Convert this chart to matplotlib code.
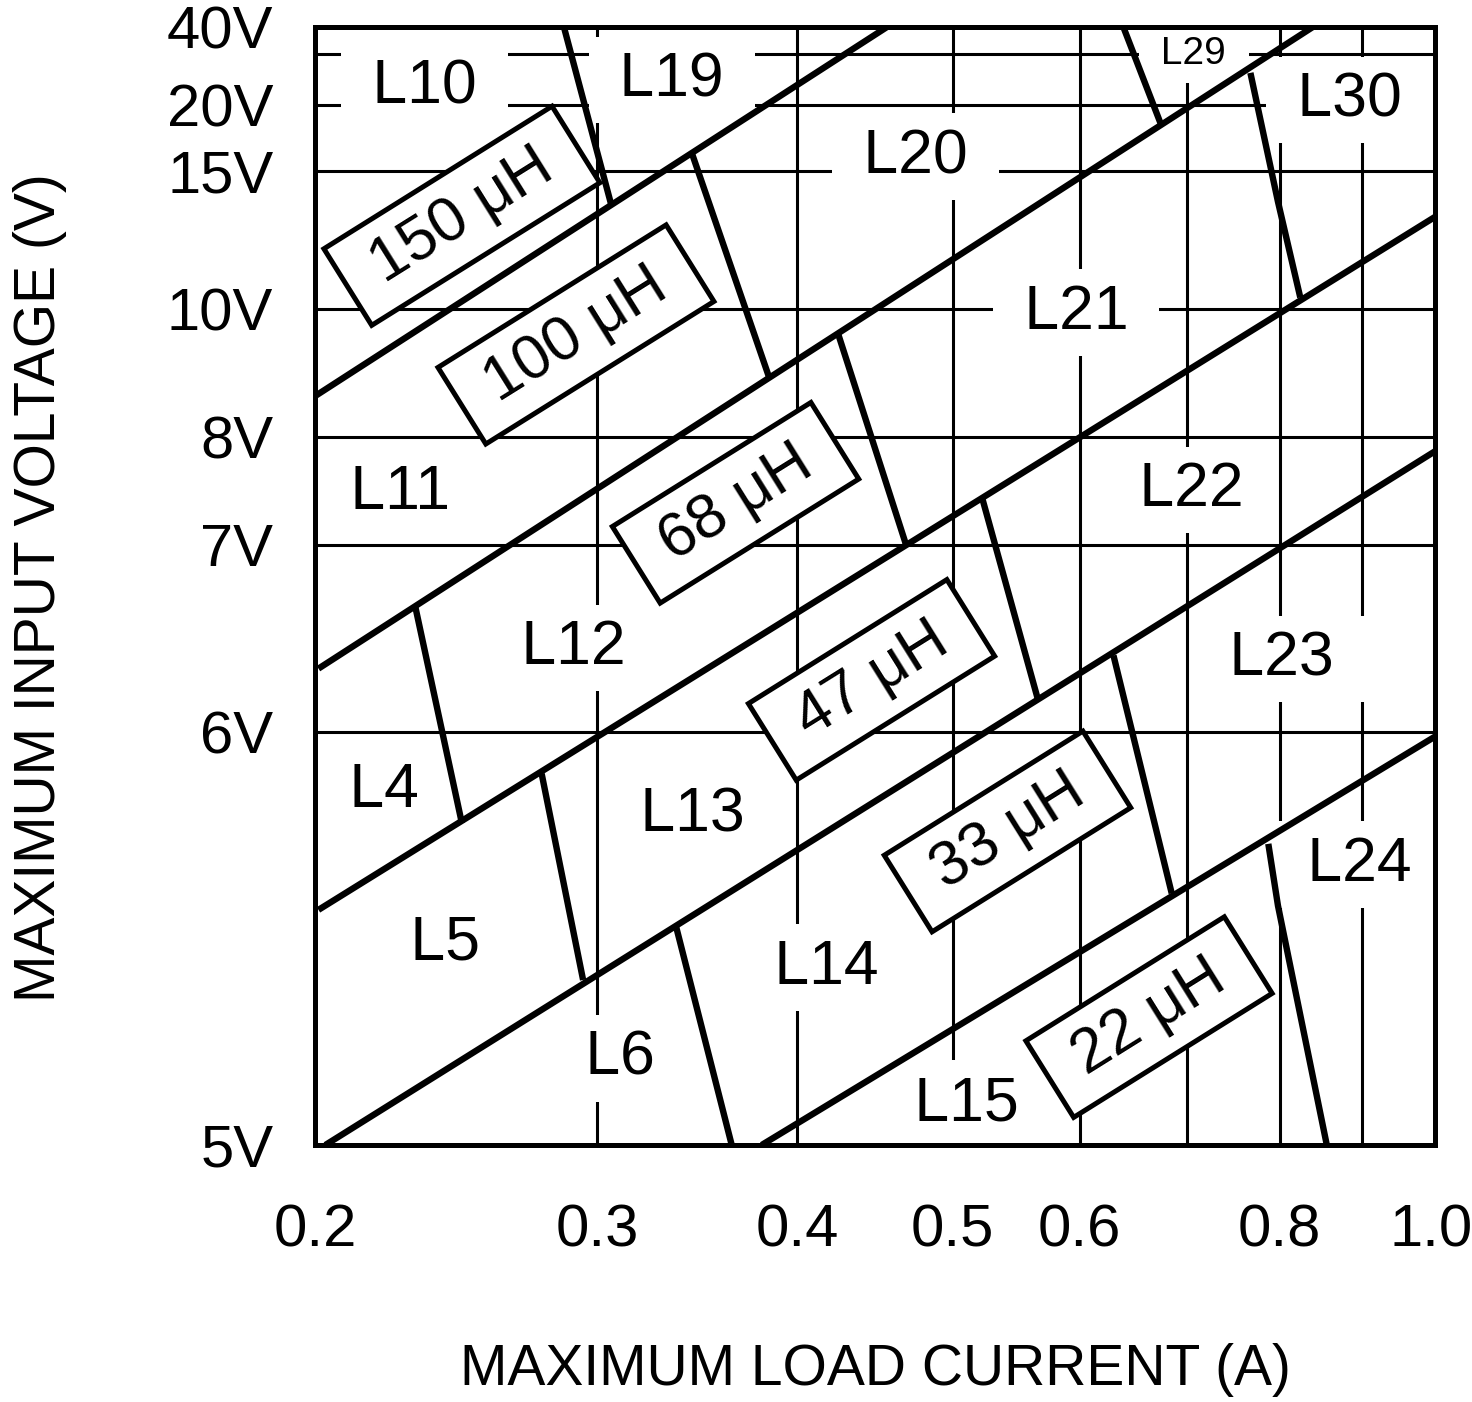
import numpy as np
import matplotlib.pyplot as plt
from matplotlib.ticker import NullFormatter

plt.rcParams['font.family'] = ['Liberation Sans', 'DejaVu Sans']

# y axis is not linear: position of each gridline as fraction of axis height
cal_volts = [5, 6, 7, 8, 10, 15, 20, 30, 40]
cal_pos = [0.0, 0.369, 0.537, 0.633, 0.748, 0.871, 0.930, 0.976, 1.0]

x_ticks = [0.2, 0.3, 0.4, 0.5, 0.6, 0.8, 1.0]
x_tick_labels = ['0.2', '0.3', '0.4', '0.5', '0.6', '0.8', '']
x_last_label = '1.0'
x_minor = [0.7, 0.9]
y_ticks = [5, 6, 7, 8, 10, 15, 20, 40]
y_tick_labels = ['5V', '6V', '7V', '8V', '10V', '15V', '20V', '40V']
y_minor = [30]

# diagonal boundaries (load current A, input voltage V)
diag_lines = [
    ([0.200, 0.455], [8.64, 40.0]),
    ([0.201, 0.839], [6.34, 40.0]),
    ([0.201, 1.000], [5.57, 13.34]),
    ([0.203, 1.000], [5.00, 7.87]),
    ([0.380, 1.000], [5.00, 5.99]),
]

# steep boundaries between inductor codes
step_lines = [
    ([0.286, 0.306], [40.0, 13.82]),
    ([0.344, 0.384], [16.25, 8.94]),
    ([0.424, 0.468], [9.62, 6.99]),
    ([0.522, 0.565], [7.42, 6.18]),
    ([0.630, 0.685], [6.41, 5.61]),
    ([0.787, 0.798, 0.856], [5.73, 5.58, 5.00]),
    ([0.639, 0.674], [40.0, 18.65]),
    ([0.767, 0.798, 0.824], [26.3, 13.89, 10.41]),
    ([0.231, 0.247], [6.67, 5.78]),
    ([0.277, 0.294], [5.90, 5.40]),
    ([0.336, 0.364], [5.53, 5.00]),
]

# region codes
region_names = ['L10', 'L19', 'L20', 'L30', 'L21', 'L11', 'L22', 'L12', 'L23',
                'L4', 'L13', 'L24', 'L5', 'L14', 'L6', 'L15']
region_x = [0.234, 0.334, 0.474, 0.884, 0.597, 0.226, 0.705, 0.290, 0.802,
            0.221, 0.344, 0.897, 0.241, 0.417, 0.310, 0.510]
region_y = [23.5, 24.9, 16.1, 21.0, 9.94, 7.49, 7.51, 6.45, 6.39,
            5.86, 5.80, 5.68, 5.49, 5.43, 5.21, 5.10]
small_name, small_x, small_y = 'L29', 0.707, 30.0

# inductance boxes
ind_values = ['150', '100', '68', '47', '33', '22']
ind_x = [0.247, 0.291, 0.366, 0.445, 0.541, 0.663]
ind_y = [13.38, 9.60, 7.39, 6.28, 5.76, 5.31]


def fwd(v):
    return np.interp(v, cal_volts, cal_pos)


def inv(p):
    return np.interp(p, cal_pos, cal_volts)


fig = plt.figure(figsize=(14.72, 14.02), dpi=100)
ax = fig.add_axes([315 / 1472, 1 - 1145 / 1402, 1120 / 1472, 1118 / 1402])

ax.set_xscale('log')
ax.set_yscale('function', functions=(fwd, inv))
ax.set_xlim(0.2, 1.0)
ax.set_ylim(5, 40)

ax.set_xticks(x_ticks, x_tick_labels)
ax.set_xticks(x_minor, minor=True)
ax.set_yticks(y_ticks, y_tick_labels)
ax.set_yticks(y_minor, minor=True)
ax.xaxis.set_minor_formatter(NullFormatter())
ax.yaxis.set_minor_formatter(NullFormatter())
ax.tick_params(which='both', length=0, labelsize=43)
ax.tick_params(axis='x', pad=42)
ax.tick_params(axis='y', pad=30)
# last x label pulled in a little so it stays inside the figure
ax.annotate(x_last_label, xy=(1.0, 0), xycoords=('data', 'axes fraction'),
            xytext=(-3, -42), textcoords='offset points', ha='center', va='top',
            fontsize=43, annotation_clip=False)

ax.set_axisbelow(True)
ax.grid(True, which='both', color='black', lw=2.2)
for s in ax.spines.values():
    s.set_linewidth(3.6)
    s.set_zorder(6)

# boundary lines
for xs, ys in diag_lines + step_lines:
    ax.plot(xs, ys, color='black', lw=4.6, solid_capstyle='butt', zorder=5)

# region labels
for name, x, y in zip(region_names, region_x, region_y):
    ax.text(x, y, ' ' + name + ' ', fontsize=45, ha='center', va='center', zorder=3,
            bbox=dict(boxstyle='square,pad=0.22', fc='white', ec='none'))
ax.text(small_x, small_y, ' ' + small_name + ' ', fontsize=28, ha='center', va='center',
        zorder=3, bbox=dict(boxstyle='square,pad=0.3', fc='white', ec='none'))

# inductance value boxes
for val, x, y in zip(ind_values, ind_x, ind_y):
    ax.text(x, y, ' ' + val + ' \u03bcH ', fontsize=45, ha='center', va='center',
            rotation=32, rotation_mode='anchor', zorder=4,
            bbox=dict(boxstyle='square,pad=0.25', fc='white', ec='black', lw=3.6))

fig.text(875 / 1472, 1 - 1370 / 1402, 'MAXIMUM LOAD CURRENT (A)', fontsize=41,
         ha='center', va='center')
fig.text(40 / 1472, 1 - 588 / 1402, 'MAXIMUM INPUT VOLTAGE (V)', fontsize=41,
         ha='center', va='center', rotation=90)

fig.savefig('out.png', dpi=100)
